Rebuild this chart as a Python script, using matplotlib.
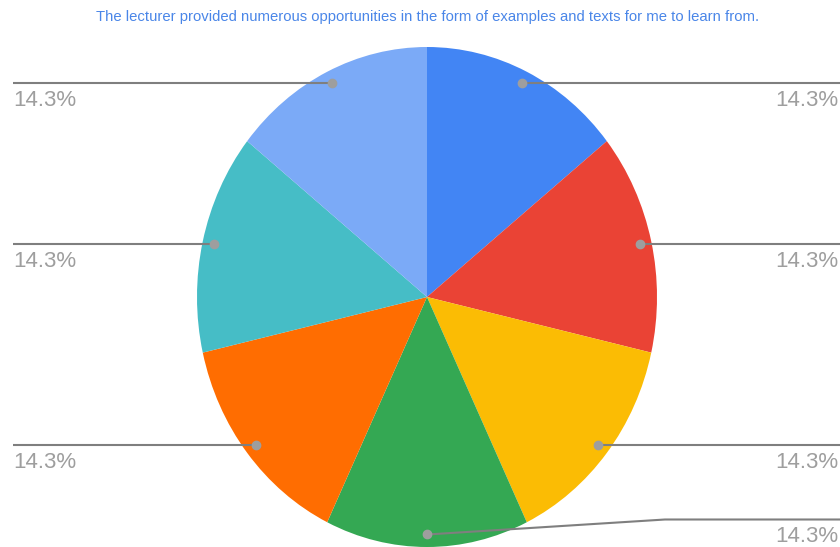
import numpy as np
import matplotlib
matplotlib.use('Agg')
from matplotlib import pyplot as plt

plt.rcParams['font.family'] = ['Liberation Sans', 'DejaVu Sans']

title = 'The lecturer provided numerous opportunities in the form of examples and texts for me to learn from.'
categories = ['1', '2', '3', '4', '5', '6', '7']
values = [1, 1, 1, 1, 1, 1, 1]
colors = ['#4285F4', '#EA4335', '#FBBC04', '#34A853', '#FF6D01', '#46BDC6', '#7BAAF7']
labels = ['%.1f%%' % (100.0 * v / sum(values)) for v in values]

fig = plt.figure(figsize=(8.4, 5.47), dpi=100)
ax = fig.add_axes([0, 0, 1, 1])
wedges, _ = ax.pie(values, colors=colors, startangle=90, counterclock=False,
                   radius=1, center=(0, 0))
# the original picture is squeezed sideways, so the pie is an ellipse
ax.set_aspect('auto')
ax.set_xlim(-427 / 230.0, 413 / 230.0)
ax.set_ylim(-250 / 250.0, 297 / 250.0)
ax.axis('off')

x_left = ax.get_xlim()[0] + 13 / 230.0
x_right = ax.get_xlim()[1]
line_col = '#7f7f7f'
dot_col = '#9e9e9e'
lab_col = '#9e9e9e'
gap = 7 / 250.0

for w, lab in zip(wedges, labels):
    ang = np.deg2rad((w.theta1 + w.theta2) / 2.0)
    dx = 0.95 * np.cos(ang)
    dy = 0.95 * np.sin(ang)
    if abs(np.cos(ang)) < 0.2:
        # bottom slice: bent leader line
        ybend = dy + 15 / 250.0
        xs = [dx, dx + 238 / 230.0, x_right]
        ys = [dy, ybend, ybend]
    elif dx > 0:
        xs = [dx, x_right]
        ys = [dy, dy]
    else:
        xs = [dx, x_left]
        ys = [dy, dy]
    ax.plot(xs, ys, color=line_col, lw=1.5, solid_capstyle='butt', zorder=3)
    ax.plot([dx], [dy], 'o', color=dot_col, markersize=6, zorder=4)
    if xs[-1] > 0:
        ax.text(x_right - 2 / 230.0, ys[-1] - gap, lab, ha='right', va='top',
                color=lab_col, fontsize=16)
    else:
        ax.text(x_left, ys[-1] - gap, lab, ha='left', va='top',
                color=lab_col, fontsize=16)

fig.text(428 / 840.0, 1 - 17 / 547.0, title, ha='center', va='center',
         color='#4a86e8', fontsize=10.7)

fig.savefig('out.png', dpi=100)
